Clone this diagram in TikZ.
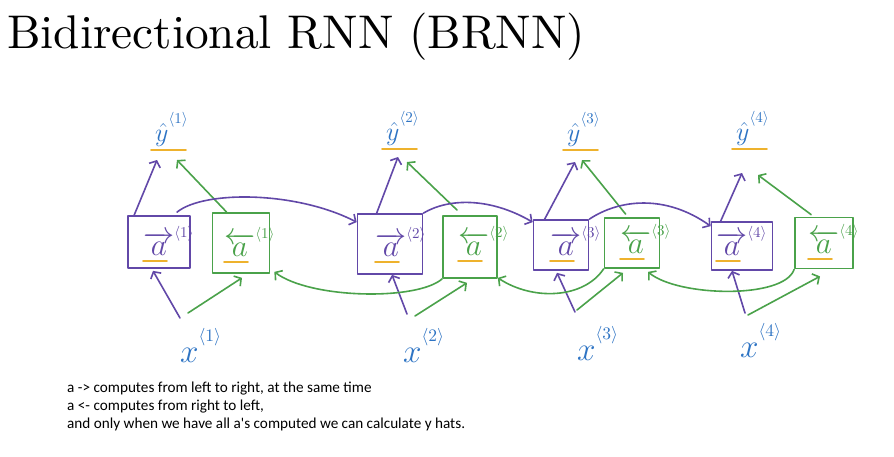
\documentclass[tikz,border=0pt]{standalone}
\usepackage{fontspec}
\newfontfamily\notefont{Carlito}
\usetikzlibrary{arrows.meta,calc}

\definecolor{fwdpurple}{RGB}{98,72,168}
\definecolor{bwdgreen}{RGB}{74,162,74}
\definecolor{inkblue}{RGB}{46,116,196}
\definecolor{hlorange}{RGB}{238,178,45}

% cell labels: activation with direction arrow and time index
% (set at 20pt and scaled, so the math fonts grow past their largest size)
\newcommand\fwdlab[1]{\scalebox{1.5}{\fontsize{20}{20}\selectfont$\overrightarrow{a}$\raisebox{12pt}{\fontsize{10}{10}\selectfont$\langle#1\rangle$}}}
\newcommand\bwdlab[1]{\scalebox{1.5}{\fontsize{20}{20}\selectfont$\overleftarrow{a}$\raisebox{12pt}{\fontsize{10}{10}\selectfont$\langle#1\rangle$}}}
\newcommand\yhatlab[1]{\scalebox{1.5}{\fontsize{19}{19}\selectfont$\hat{y}$\raisebox{12pt}{\fontsize{10}{10}\selectfont$\langle#1\rangle$}}}
\newcommand\xinlab[1]{\scalebox{1.6}{\fontsize{20}{20}\selectfont$x$\raisebox{13pt}{\fontsize{11}{11}\selectfont$\langle#1\rangle$}}}

\tikzset{
  fwdbox/.style={draw=fwdpurple, line width=1.7pt, inner sep=0pt},
  bwdbox/.style={draw=bwdgreen, line width=1.7pt, inner sep=0pt},
  fwdtxt/.style={text=fwdpurple, inner sep=0pt, anchor=base west},
  bwdtxt/.style={text=bwdgreen, inner sep=0pt, anchor=base west},
  bluetxt/.style={text=inkblue, inner sep=0pt, anchor=base west},
  fwdline/.style={draw=fwdpurple, line width=1.6pt},
  bwdline/.style={draw=bwdgreen, line width=1.6pt},
  hlline/.style={draw=hlorange, line width=1.8pt},
  arr/.style={-{Straight Barb[length=5pt,width=12pt]}},
  notetxt/.style={anchor=base west, inner sep=0pt, font=\notefont\fontsize{15.2}{18}\selectfont},
}

\begin{document}
\begin{tikzpicture}[x=1pt,y=-1pt,line cap=round,line join=round]
\useasboundingbox (0,0) rectangle (894,456);
\fill[white] (0,0) rectangle (894,456);

% title, set at text size and enlarged
\node[anchor=base west, inner sep=0pt] (title) at (7,48)
  {\resizebox{578pt}{!}{\fontsize{10}{12}\selectfont Bidirectional RNN (BRNN)}};

% forward cells
\node[fwdbox, minimum width=62pt, minimum height=52pt] (f1) at (159,242) {};
\node[fwdbox, minimum width=65pt, minimum height=60pt] (f2) at (390,244) {};
\node[fwdbox, minimum width=55pt, minimum height=50pt] (f3) at (561,245) {};
\node[fwdbox, minimum width=61pt, minimum height=48pt] (f4) at (742,246) {};
% backward cells
\node[bwdbox, minimum width=57pt, minimum height=60pt] (b1) at (241,243) {};
\node[bwdbox, minimum width=54pt, minimum height=62pt] (b2) at (470,247) {};
\node[bwdbox, minimum width=55pt, minimum height=50pt] (b3) at (632,243) {};
\node[bwdbox, minimum width=58pt, minimum height=51pt] (b4) at (824,243) {};

% cell labels
\node[fwdtxt] (la1) at (143,255) {\fwdlab{1}};
\node[bwdtxt] (lb1) at (224,256) {\bwdlab{1}};
\node[fwdtxt] (la2) at (375,256) {\fwdlab{2}};
\node[bwdtxt] (lb2) at (458,255) {\bwdlab{2}};
\node[fwdtxt] (la3) at (550,255) {\fwdlab{3}};
\node[bwdtxt] (lb3) at (620,253) {\bwdlab{3}};
\node[fwdtxt] (la4) at (716,255) {\fwdlab{4}};
\node[bwdtxt] (lb4) at (808,253) {\bwdlab{4}};
\foreach \n in {la1,lb1,la2,lb2,la3,lb3,la4,lb4}
  \draw[hlline] ($(\n.base west)+(0,6)$) -- ($(\n.base west)+(24,6)$);

% outputs
\node[bluetxt] (y1) at (155,141) {\yhatlab{1}};
\node[bluetxt] (y2) at (386,140) {\yhatlab{2}};
\node[bluetxt] (y3) at (567,141) {\yhatlab{3}};
\node[bluetxt] (y4) at (736,140) {\yhatlab{4}};
\foreach \n in {y1,y2,y3,y4}
  \draw[hlline] ($(\n.base west)+(-4,9)$) -- ($(\n.base west)+(31,9)$);

% inputs
\node[bluetxt] (x1) at (180,362) {\xinlab{1}};
\node[bluetxt] (x2) at (403,362) {\xinlab{2}};
\node[bluetxt] (x3) at (577,360) {\xinlab{3}};
\node[bluetxt] (x4) at (740,357) {\xinlab{4}};

% cells to outputs
\draw[fwdline,arr] ($(f1.north west)+(7,0)$)  -- ($(y1.base west)+(2,19)$);
\draw[bwdline,arr] ($(b1.north west)+(15,0)$) -- ($(y1.base west)+(22,19)$);
\draw[fwdline,arr] ($(f2.north west)+(20,0)$) -- ($(y2.base west)+(12,17)$);
\draw[bwdline,arr] ($(b2.north west)+(15,-5)$) -- ($(y2.base west)+(21,22)$);
\draw[fwdline,arr] ($(f3.north west)+(12,0)$) -- ($(y3.base west)+(8,21)$);
\draw[bwdline,arr] ($(b3.north west)+(22,-3)$) -- ($(y3.base west)+(15,19)$);
\draw[fwdline,arr] ($(f4.north west)+(10,0)$) -- ($(y4.base west)+(6,33)$);
\draw[bwdline,arr] ($(b4.north west)+(17,-2)$) -- ($(y4.base west)+(22,35)$);

% inputs to cells
\draw[fwdline,arr] ($(x1.base west)+(0,-44)$) -- ($(f1.south)+(-6,2)$);
\draw[bwdline,arr] ($(x1.base west)+(8,-49)$) -- ($(b1.south)+(1,4)$);
\draw[fwdline,arr] ($(x2.base west)+(4,-48)$) -- ($(f2.south)+(2,0)$);
\draw[bwdline,arr] ($(x2.base west)+(12,-46)$) -- ($(b2.south)+(-3,4)$);
\draw[fwdline,arr] ($(x3.base west)+(-2,-48)$) -- ($(f3.south)+(-4,2)$);
\draw[bwdline,arr] ($(x3.base west)+(0,-50)$) -- ($(b3.south)+(-9,4)$);
\draw[fwdline,arr] ($(x4.base west)+(5,-44)$) -- ($(f4.south)+(-10,0)$);
\draw[bwdline,arr] ($(x4.base west)+(8,-42)$) -- ($(b4.south)+(-4,7)$);

% forward recurrence, left to right
\draw[fwdline,arr] ($(f1.north)+(18,-3)$)
  .. controls ($(f1.north)+(45,-25)$) and ($(f2.north west)+(-60,-22)$)
  .. ($(f2.north west)+(0,9)$);
\draw[fwdline,arr] (f2.north east)
  .. controls ($(f2.north east)+(25,-15)$) and ($(f3.north west)+(-43,-22)$)
  .. ($(f3.north west)+(0,3)$);
\draw[fwdline,arr] (f3.north east)
  .. controls ($(f3.north east)+(30,-20)$) and ($(f4.north west)+(-45,-27)$)
  .. ($(f4.north west)+(0,5)$);

% backward recurrence, right to left
\draw[bwdline,arr] (b2.south west)
  .. controls ($(b2.south west)+(-25,22)$) and ($(b1.south east)+(40,25)$)
  .. ($(b1.south east)+(4,-2)$);
\draw[bwdline,arr] (b3.south west)
  .. controls ($(b3.south west)+(-20,30)$) and ($(b2.south east)+(35,22)$)
  .. ($(b2.south east)+(0,-1)$);
\draw[bwdline,arr] (b4.south west)
  .. controls ($(b4.south west)+(-10,30)$) and ($(b3.south)+(46,28)$)
  .. ($(b3.south)+(16,3)$);

% notes
\node[notetxt] (n1) at (67,392) {a -> computes from left to right, at the same time};
\node[notetxt] (n2) at (67,410) {a <- computes from right to left,};
\node[notetxt] (n3) at (67,428) {and only when we have all a's computed we can calculate y hats.};
\end{tikzpicture}
\end{document}
